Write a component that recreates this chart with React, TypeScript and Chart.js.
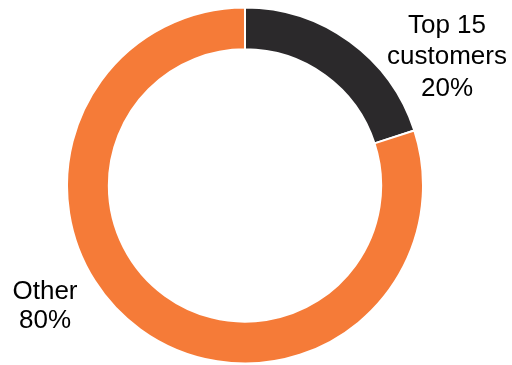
import React, { useEffect, useRef } from "react";
import { Chart, registerables } from "chart.js";

Chart.register(...registerables);

const categories = ["Top 15 customers", "Other"];
const values = [20, 80];
const labelLines = [["Top 15", "customers", "20%"], ["Other", "80%"]];
const colors = ["#2B292B", "#F57B38"];

const labelPlugin = {
  id: "sliceLabels",
  afterDraw(chart: any) {
    const ctx = chart.ctx;
    const meta = chart.getDatasetMeta(0);
    const arc = meta.data[0];
    const cx = arc.x;
    const cy = arc.y;
    const positions = [
      { x: cx + 202, y: cy - 153, lh: 31.5 },
      { x: cx - 200, y: cy + 113, lh: 29 },
    ];
    ctx.save();
    ctx.font = "26px 'Liberation Sans', Arial, sans-serif";
    ctx.fillStyle = "#000000";
    ctx.textAlign = "center";
    ctx.textBaseline = "alphabetic";
    labelLines.forEach((lines, i) => {
      const p = positions[i];
      lines.forEach((t, j) => ctx.fillText(t, p.x, p.y + j * p.lh));
    });
    ctx.restore();
  },
};

export default function App() {
  const ref = useRef<HTMLCanvasElement>(null);
  useEffect(() => {
    document.body.style.margin = "0";
    const chart = new Chart(ref.current!, {
      type: "doughnut",
      data: {
        labels: categories,
        datasets: [
          {
            data: values,
            backgroundColor: colors,
            borderColor: "#ffffff",
            borderWidth: 2,
          },
        ],
      },
      options: {
        responsive: false,
        animation: false,
        cutout: "76.5%",
        layout: { padding: { left: 66, right: 88, top: 6, bottom: 0 } },
        plugins: { legend: { display: false }, tooltip: { enabled: false } },
      },
      plugins: [labelPlugin],
    });
    return () => chart.destroy();
  }, []);
  return (
    <div style={{ width: 512, height: 365 }}>
      <canvas ref={ref} width={512} height={365} />
    </div>
  );
}
